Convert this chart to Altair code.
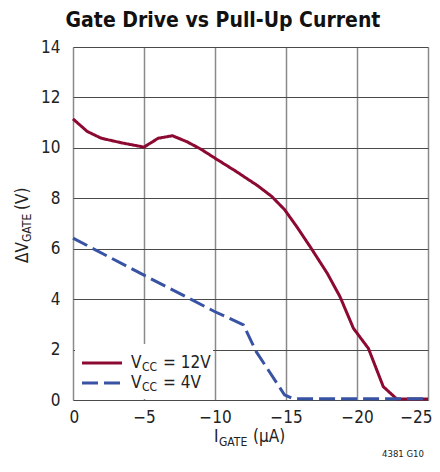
import altair as alt
import pandas as pd

# ---- data ----
red_x = [0, -1, -2, -3.5, -5, -6, -7, -8, -9, -10, -11.5, -13, -14, -14.9, -15.75,
         -16.7, -17.9, -18.8, -19.75, -20.8, -21.85, -22.8, -25]
red_y = [11.15, 10.65, 10.38, 10.19, 10.03, 10.38, 10.48, 10.25, 9.95, 9.59, 9.06,
         8.5, 8.07, 7.55, 6.88, 6.08, 5.03, 4.1, 2.84, 2.05, 0.53, 0.04, 0.04]
blue_x = [0, -5, -10, -12, -12.9, -14.9, -15.5, -25]
blue_y = [6.42, 4.95, 3.5, 2.98, 1.92, 0.2, 0.05, 0.05]
series = ["VCC = 12V", "VCC = 4V"]
x_ticks = [0, -5, -10, -15, -20, -25]
y_ticks = [0, 2, 4, 6, 8, 10, 12, 14]
title_text = "Gate Drive vs Pull-Up Current"
note_text = "4381 G10"

RED = "#8c0a32"
BLUE = "#3853a4"
FONT = "DejaVu Sans Condensed, DejaVu Sans, sans-serif"

rows = []
for i, (x, y) in enumerate(zip(red_x, red_y)):
    rows.append({"s": series[0], "x": x, "y": y, "o": i})
for i, (x, y) in enumerate(zip(blue_x, blue_y)):
    rows.append({"s": series[1], "x": x, "y": y, "o": i})
df = pd.DataFrame(rows)

W, H = 355, 353

xscale = alt.Scale(domain=[0, -25], nice=False, zero=False)
yscale = alt.Scale(domain=[0, 14], nice=False)

base = alt.Chart(df)

lines = base.mark_line(strokeWidth=3, strokeCap="butt", strokeJoin="round").encode(
    x=alt.X("x:Q", scale=xscale,
            axis=alt.Axis(values=x_ticks, title=None, grid=True, gridColor="#8a8a8a",
                          gridWidth=1.5, ticks=False, domain=False, labelPadding=9,
                          labelFlush=True, labelFlushOffset=4, labelOverlap=False,
                          labelFont=FONT, labelFontSize=17, labelColor="#222",
                          labelExpr="datum.value == 0 ? '0' : '\u2212' + abs(datum.value)")),
    y=alt.Y("y:Q", scale=yscale,
            axis=alt.Axis(values=y_ticks, title=None, grid=True, gridColor="#4a4a4a",
                          gridWidth=1.2, ticks=False, domain=False, labelPadding=13,
                          labelFlush=False, labelOverlap=False,
                          labelFont=FONT, labelFontSize=17, labelColor="#222")),
    color=alt.Color("s:N", scale=alt.Scale(domain=series, range=[RED, BLUE]), legend=None),
    strokeDash=alt.StrokeDash("s:N", scale=alt.Scale(domain=series, range=[[1, 0], [16, 6]]),
                              legend=None),
    order="o:Q",
)

# legend background
leg_bg = alt.Chart(pd.DataFrame({"a": [0]})).mark_rect(fill="white").encode(
    x=alt.value(2), x2=alt.value(140), y=alt.value(297), y2=alt.value(352))

leg_red = alt.Chart(pd.DataFrame({"a": [0]})).mark_rule(color=RED, strokeWidth=3).encode(
    x=alt.value(9), x2=alt.value(49), y=alt.value(316))
leg_blue = alt.Chart(pd.DataFrame({"a": [0]})).mark_rule(
    color=BLUE, strokeWidth=3, strokeDash=[16, 6]).encode(
    x=alt.value(9), x2=alt.value(49), y=alt.value(336))


def txt(s, x, y, size, **kw):
    return alt.Chart(pd.DataFrame({"t": [s]})).mark_text(
        align=kw.pop("align", "left"), baseline="alphabetic", fontSize=size, font=FONT,
        color=kw.pop("color", "#222"), **kw).encode(
        text="t:N", x=alt.value(x), y=alt.value(y))


texts = [
    # title
    txt(title_text, 150, -20, 21, fontWeight="bold", color="#111", align="center"),
    # legend texts
    txt("V", 58, 321, 17), txt("CC", 69, 324, 12), txt("= 12V", 90, 321, 17),
    txt("V", 58, 341, 17), txt("CC", 69, 344, 12), txt("= 4V", 90, 341, 17),
    # x title
    txt("I", 141, 395, 17), txt("GATE", 146, 399, 12), txt("(\u00b5A)", 180, 395, 17),
    # y title (rotated)
    txt("\u0394V", -45, 216, 17, angle=270), txt("GATE", -42, 195, 12, angle=270),
    txt("(V)", -45, 163, 17, angle=270),
    # note
    txt(note_text, 351, 410, 9.5, align="right"),
]

chart = alt.layer(lines, leg_bg, leg_red, leg_blue, *texts).properties(
    width=W, height=H,
    autosize=alt.AutoSizeParams(type="none"),
    padding={"left": 65, "top": 39, "right": 4, "bottom": 60},
).configure_view(stroke="black", strokeWidth=2).configure(background="white")

chart.save("out.html", embed_options={"renderer": "svg", "actions": False})
